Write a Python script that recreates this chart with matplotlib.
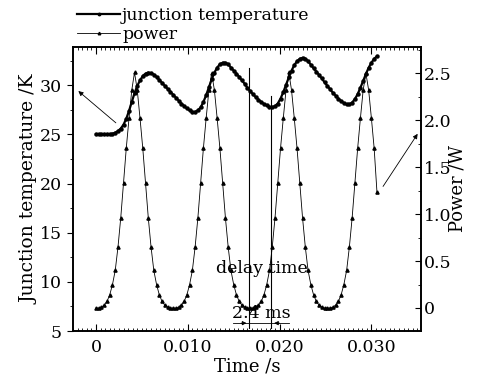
import matplotlib
matplotlib.use('Agg')
import matplotlib.pyplot as plt
from matplotlib.ticker import MultipleLocator, FixedLocator, FixedFormatter

# ---------------- data ----------------
time_ms = [0.0, 0.3, 0.6, 0.9, 1.2, 1.5, 1.8, 2.1, 2.4, 2.7,
           3.0, 3.3, 3.6, 3.9, 4.2, 4.5, 4.8, 5.1, 5.4, 5.7,
           6.0, 6.3, 6.6, 6.9, 7.2, 7.5, 7.8, 8.1, 8.4, 8.7,
           9.0, 9.3, 9.6, 9.9, 10.2, 10.5, 10.8, 11.1, 11.4, 11.7,
           12.0, 12.3, 12.6, 12.9, 13.2, 13.5, 13.8, 14.1, 14.4, 14.7,
           15.0, 15.3, 15.6, 15.9, 16.2, 16.5, 16.8, 17.1, 17.4, 17.7,
           18.0, 18.3, 18.6, 18.9, 19.2, 19.5, 19.8, 20.1, 20.4, 20.7,
           21.0, 21.3, 21.6, 21.9, 22.2, 22.5, 22.8, 23.1, 23.4, 23.7,
           24.0, 24.3, 24.6, 24.9, 25.2, 25.5, 25.8, 26.1, 26.4, 26.7,
           27.0, 27.3, 27.6, 27.9, 28.2, 28.5, 28.8, 29.1, 29.4, 29.7,
           30.0, 30.3, 30.6]

junction_temp_K = [25.00, 25.00, 25.00, 25.00, 25.01, 25.03, 25.08, 25.18, 25.35, 25.60,
                   26.00, 26.60, 27.40, 28.30, 29.20, 29.95, 30.50, 30.95, 31.20, 31.30,
                   31.25, 31.10, 30.85, 30.55, 30.25, 29.95, 29.65, 29.35, 29.05, 28.75,
                   28.45, 28.15, 27.90, 27.65, 27.45, 27.30, 27.30, 27.45, 27.75, 28.30,
                   29.00, 29.80, 30.60, 31.30, 31.80, 32.15, 32.30, 32.30, 32.15, 31.80,
                   31.50, 31.20, 30.85, 30.50, 30.15, 29.75, 29.40, 29.10, 28.80, 28.55,
                   28.30, 28.10, 27.95, 27.82, 27.78, 27.88, 28.15, 28.65, 29.30, 30.05,
                   30.80, 31.50, 32.05, 32.45, 32.70, 32.80, 32.70, 32.45, 32.10, 31.75,
                   31.40, 31.05, 30.70, 30.30, 29.95, 29.60, 29.25, 28.95, 28.65, 28.40,
                   28.20, 28.05, 28.05, 28.25, 28.60, 29.10, 29.75, 30.45, 31.15, 31.80,
                   32.30, 32.70, 32.95]

power_W = [0.00, 0.00, 0.01, 0.03, 0.07, 0.14, 0.25, 0.40, 0.65, 0.96,
           1.33, 1.70, 2.02, 2.32, 2.51, 2.32, 2.02, 1.70, 1.33, 0.96,
           0.65, 0.40, 0.25, 0.14, 0.07, 0.03, 0.01, 0.00, 0.00, 0.00,
           0.01, 0.03, 0.07, 0.14, 0.25, 0.40, 0.65, 0.96, 1.33, 1.70,
           2.02, 2.32, 2.50, 2.32, 2.02, 1.70, 1.33, 0.96, 0.65, 0.40,
           0.25, 0.14, 0.07, 0.03, 0.01, 0.00, 0.00, 0.00, 0.01, 0.03,
           0.07, 0.14, 0.25, 0.40, 0.65, 0.96, 1.33, 1.70, 2.02, 2.32,
           2.51, 2.32, 2.02, 1.70, 1.33, 0.96, 0.65, 0.40, 0.25, 0.14,
           0.07, 0.03, 0.01, 0.00, 0.00, 0.00, 0.01, 0.03, 0.07, 0.14,
           0.25, 0.40, 0.65, 0.96, 1.33, 1.70, 2.02, 2.32, 2.50, 2.32,
           2.02, 1.70, 1.24]

delay_lines_s = [0.0167, 0.0191]
delay_label = "2.4 ms"

xticks = [0.0, 0.010, 0.020, 0.030]
xtick_labels = ["0", "0.010", "0.020", "0.030"]
left_ticks = [5, 10, 15, 20, 25, 30]
right_ticks = [0, 0.5, 1.0, 1.5, 2.0, 2.5]
right_tick_labels = ["0", "0.5", "1.0", "1.5", "2.0", "2.5"]

# ---------------- figure ----------------
plt.rcParams['font.family'] = ['DejaVu Serif']
plt.rcParams['font.size'] = 12

W, H = 488, 377
fig = plt.figure(figsize=(W / 100, H / 100), dpi=100)
ax = fig.add_axes([73 / W, 1 - 331 / H, (421 - 73) / W, (331 - 47) / H])
ax2 = ax.twinx()

t_s = [v / 1000 for v in time_ms]

l1, = ax.plot(t_s, junction_temp_K, color='black', lw=1.6, marker='o',
              markersize=2.2, label='junction temperature', zorder=3)
l2, = ax2.plot(t_s, power_W, color='black', lw=0.6, marker='^',
               markersize=2.3, label='power', zorder=3)

ax.set_xlim(-0.0025, 0.0354)
ax.set_ylim(5, 33.9)
ax2.set_ylim(-0.245, 2.78)

# delay-time vertical lines
for xv, top in zip(delay_lines_s, [31.75, 28.95]):
    ax.plot([xv, xv], [5.3, top], color='black', lw=0.8, zorder=2)

ax.text(0.0181, 11.4, "delay time", ha='center', va='center', fontsize=12.5)
ax.text(0.0180, 5.95, delay_label, ha='center', va='bottom', fontsize=12.5)
ax.plot([0.0149, 0.0210], [5.8, 5.8], color='black', lw=0.6)
ax.annotate('', xy=(delay_lines_s[0], 5.8), xytext=(0.0155, 5.8),
            arrowprops=dict(arrowstyle='-|>', lw=0.6, color='black', mutation_scale=6))
ax.annotate('', xy=(delay_lines_s[1], 5.8), xytext=(0.0203, 5.8),
            arrowprops=dict(arrowstyle='-|>', lw=0.6, color='black', mutation_scale=6))

# pointer arrows to axes
ax.annotate('', xy=(-0.00215, 29.6), xytext=(0.0024, 26.0),
            arrowprops=dict(arrowstyle='-|>', lw=0.6, color='black', mutation_scale=7),
            annotation_clip=False)
ax2.annotate('', xy=(0.0352, 1.88), xytext=(0.0311, 1.27),
             arrowprops=dict(arrowstyle='-|>', lw=0.6, color='black', mutation_scale=7),
             annotation_clip=False)

# ticks
ax.xaxis.set_major_locator(FixedLocator(xticks))
ax.xaxis.set_major_formatter(FixedFormatter(xtick_labels))
ax.xaxis.set_minor_locator(MultipleLocator(0.0005))
ax.yaxis.set_major_locator(FixedLocator(left_ticks))
ax.yaxis.set_minor_locator(MultipleLocator(2.5))
ax2.yaxis.set_major_locator(FixedLocator(right_ticks))
ax2.yaxis.set_major_formatter(FixedFormatter(right_tick_labels))
ax2.yaxis.set_minor_locator(MultipleLocator(0.25))

ax.tick_params(axis='x', which='major', direction='in', length=5, width=0.8,
               top=True, labelsize=12.5, pad=6)
ax.tick_params(axis='x', which='minor', direction='in', length=2.5, width=0.6, top=True)
ax.tick_params(axis='y', which='major', direction='out', length=4, width=0.8,
               labelsize=12.5, pad=4)
ax.tick_params(axis='y', which='minor', direction='out', length=2.5, width=0.6)
ax2.tick_params(axis='y', which='major', direction='in', length=4, width=0.8,
                labelsize=12.5, pad=2)
ax2.tick_params(axis='y', which='minor', direction='in', length=2.5, width=0.6)

for a in (ax, ax2):
    for s in a.spines.values():
        s.set_linewidth(1.2)

ax.set_xlabel('Time /s', fontsize=13, labelpad=1)
ax.set_ylabel('Junction temperature /K', fontsize=13.5, labelpad=1)
ax2.set_ylabel('Power /W', fontsize=13, labelpad=-2)

fig.legend(handles=[l1, l2], loc='upper left', bbox_to_anchor=(76 / W, 1 - 6 / H),
           frameon=False, fontsize=12.5, handlelength=2.5, handletextpad=0.1,
           labelspacing=0.15, borderaxespad=0.0, borderpad=0.05, numpoints=1,
           markerscale=0.8)

fig.savefig('out.png', dpi=100)
